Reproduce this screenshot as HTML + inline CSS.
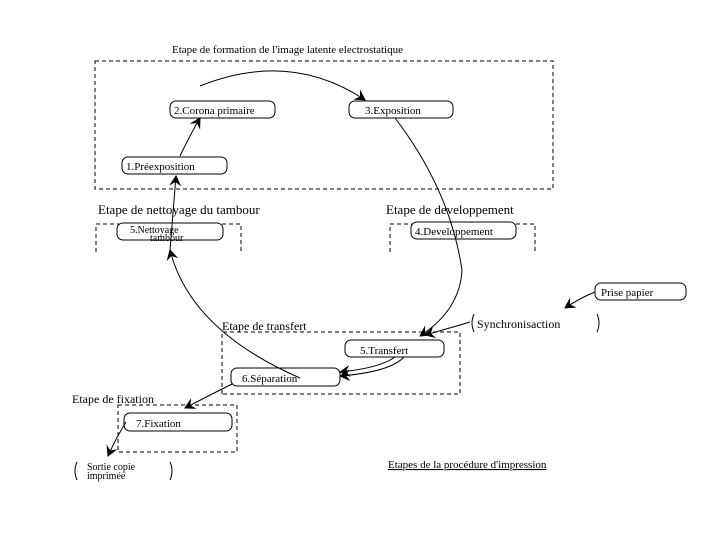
<!DOCTYPE html>
<html><head><meta charset="utf-8"><style>
html,body{margin:0;padding:0;background:#fff;}
svg{display:block;}
text{font-family:"Liberation Serif",serif;font-size:11px;fill:#000;}
</style></head><body>
<svg width="720" height="540" viewBox="0 0 720 540" xmlns="http://www.w3.org/2000/svg">
<defs>
<marker id="a" markerWidth="12" markerHeight="12" refX="10" refY="6" orient="auto" markerUnits="userSpaceOnUse">
<path d="M0,0 L11,6 L0,12 L4,6 z" fill="#000"/></marker>
</defs>
<g fill="none" stroke="#000" stroke-width="1" stroke-dasharray="4,3">
<rect x="95" y="61" width="458" height="128"/>
<path d="M96,252 V224 H241 V252"/>
<path d="M390,252 V224 H535 V252"/>
<path d="M222,394 V332 H460 V394 H222"/>
<rect x="118" y="405" width="119" height="47"/>
</g>
<g fill="#fff" stroke="#000" stroke-width="1">
<rect x="170" y="101" width="105" height="17" rx="6"/>
<rect x="349" y="101" width="104" height="17" rx="6"/>
<rect x="122" y="157" width="105" height="17" rx="6"/>
<rect x="117" y="223" width="106" height="17" rx="6"/>
<rect x="411" y="222" width="105" height="17" rx="6"/>
<rect x="595" y="283" width="91" height="17" rx="6"/>
<rect x="345" y="340" width="99" height="17" rx="6"/>
<rect x="231" y="368" width="109" height="18" rx="6"/>
<rect x="124" y="413" width="108" height="18" rx="6"/>
</g>
<g fill="none" stroke="#000" stroke-width="1">
<path d="M474,314 q-4,9 0,18 M597,314 q4,9 0,18"/>
<path d="M77,462 q-4,9 0,18 M170,462 q4,9 0,18"/>
<path d="M395,118 Q450,190 462,270 Q460,310 420,336" marker-end="url(#a)"/>
<path d="M200,86 Q290,50 365,100" marker-end="url(#a)"/>
<path d="M180,156 Q190,135 200,118" marker-end="url(#a)"/>
<path d="M170,250 L176,176" marker-end="url(#a)"/>
<path d="M300,378 Q190,330 170,250" marker-end="url(#a)"/>
<path d="M404,357 Q390,372 340,376" marker-end="url(#a)"/>
<path d="M395,357 Q380,368 340,372" marker-end="url(#a)"/>
<path d="M470,322 Q450,328 425,335" marker-end="url(#a)"/>
<path d="M595,292 Q580,298 565,308" marker-end="url(#a)"/>
<path d="M232,384 Q210,395 185,408" marker-end="url(#a)"/>
<path d="M126,422 Q115,440 108,456" marker-end="url(#a)"/>
</g>
<text x="172" y="53">Etape de formation de l'image latente electrostatique</text>
<text x="174" y="114">2.Corona primaire</text>
<text x="365" y="114">3.Exposition</text>
<text x="126" y="170">1.Préexposition</text>
<text x="98" y="214" style="font-size:13px">Etape de nettoyage du tambour</text>
<text x="386" y="214" style="font-size:13px">Etape de developpement</text>
<text x="130" y="233" style="font-size:10px">5.Nettoyage</text>
<text x="150" y="241" style="font-size:10px">tambour</text>
<text x="415" y="235">4.Developpement</text>
<text x="601" y="296">Prise papier</text>
<text x="477" y="328" style="font-size:12px">Synchronisaction</text>
<text x="222" y="330" style="font-size:12px">Etape de transfert</text>
<text x="360" y="354">5.Transfert</text>
<text x="242" y="382">6.Séparation</text>
<text x="72" y="403" style="font-size:12px">Etape de fixation</text>
<text x="136" y="427">7.Fixation</text>
<text x="87" y="470" style="font-size:10px">Sortie copie</text>
<text x="87" y="479" style="font-size:10px">imprimée</text>
<text x="388" y="468" text-decoration="underline">Etapes de la procédure d'impression</text>
</svg>
</body></html>
